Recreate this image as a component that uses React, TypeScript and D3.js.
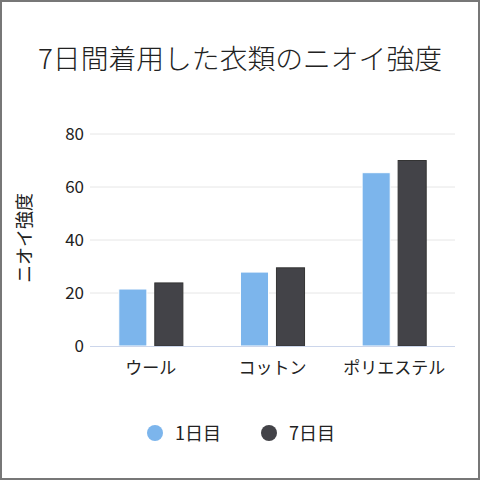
import React from "react"
import { scaleBand, scaleLinear } from "d3"

const categories = ["ウール", "コットン", "ポリエステル"]
const seriesNames = ["1日目", "7日目"]
const day1 = [21.5, 27.9, 65.4]
const day7 = [23.8, 29.5, 70]
const yTicks = [0, 20, 40, 60, 80]
const colors = ["#7cb5ec", "#434348"]

const W = 480
const H = 480
const margin = { top: 134, right: 25, bottom: 134, left: 90 }
const font = "'Noto Sans CJK JP', 'Noto Sans', sans-serif"

const App = () => {
  const x = scaleBand<string>()
    .domain(categories)
    .range([margin.left, W - margin.right])
  const y = scaleLinear().domain([0, 80]).range([H - margin.bottom, margin.top])
  const inner = scaleBand<string>()
    .domain(seriesNames)
    .range([0, x.bandwidth()])
    .paddingInner(0.22)
    .paddingOuter(0.8)

  const series = [day1, day7]

  return (
    <svg
      width={W}
      height={H}
      style={{ position: "absolute", left: 0, top: 0, fontFamily: font }}
    >
      <rect x={0} y={0} width={W} height={H} fill="#fff" />
      <rect x={1} y={1} width={W - 2} height={H - 2} fill="none" stroke="#777" strokeWidth={2} />

      <text x={W / 2} y={69} textAnchor="middle" fontSize={27.8} fontWeight={300} fill="#222">
        7日間着用した衣類のニオイ強度
      </text>

      {/* grid + y ticks */}
      {yTicks.map((t) => (
        <g key={t}>
          {t > 0 && (
            <line x1={margin.left} x2={W - margin.right} y1={y(t)} y2={y(t)} stroke="#e6e6e6" />
          )}
          <text x={84} y={y(t) + 6} textAnchor="end" fontSize={17} fill="#222">
            {t}
          </text>
        </g>
      ))}

      <text
        transform={`translate(31, 238) rotate(-90)`}
        textAnchor="middle"
        fontSize={18}
        fill="#222"
      >
        ニオイ強度
      </text>

      {/* bars */}
      {series.map((vals, si) =>
        categories.map((c, ci) => (
          <rect
            key={`${si}-${ci}`}
            x={(x(c) ?? 0) + (inner(seriesNames[si]) ?? 0)}
            y={y(vals[ci])}
            width={inner.bandwidth()}
            height={y(0) - y(vals[ci])}
            fill={colors[si]}
            stroke={si === 0 ? "#fff" : "#333"}
            strokeWidth={1}
          />
        )),
      )}

      <line x1={margin.left} x2={W - margin.right} y1={y(0) + 0.5} y2={y(0) + 0.5} stroke="#ccd6eb" />

      {categories.map((c) => (
        <text
          key={c}
          x={(x(c) ?? 0) + x.bandwidth() / 2}
          y={374}
          textAnchor="middle"
          fontSize={17}
          fill="#222"
        >
          {c}
        </text>
      ))}

      {/* legend */}
      {seriesNames.map((s, i) => (
        <g key={s} transform={`translate(${i === 0 ? 155 : 269}, 433)`}>
          <circle cx={0} cy={0} r={8} fill={colors[i]} />
          <text x={20} y={7} fontSize={18} fill="#222">
            {s}
          </text>
        </g>
      ))}
    </svg>
  )
}

export default App
